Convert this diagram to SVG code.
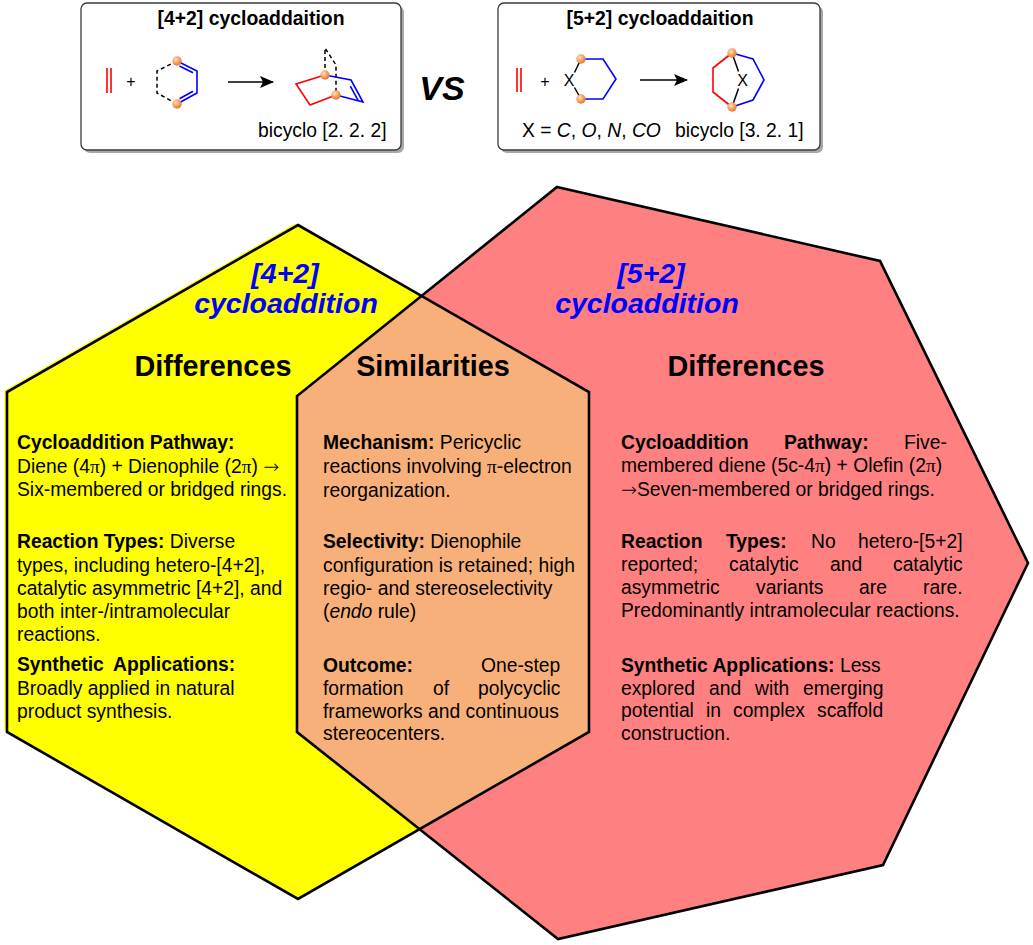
<svg xmlns="http://www.w3.org/2000/svg" width="1033" height="945" viewBox="0 0 1033 945">
<style>
text{font-family:"Liberation Sans",Arial,sans-serif;fill:#000}
.t{font-size:19.3px}
.b{font-weight:bold}
.i{font-style:italic}
.p{font-family:"Liberation Serif","Times New Roman",serif}
.ar{font-family:"DejaVu Sans",sans-serif;font-size:19px;font-weight:200}
.h{font-size:28.8px;font-weight:bold;text-anchor:middle}
.bl{font-size:28.5px;font-weight:bold;font-style:italic;fill:#0000FF;text-anchor:middle}
.ttl{font-size:19.4px;font-weight:bold;text-anchor:middle}
.sm{font-size:16px;text-anchor:middle}
.pl{font-size:16px;text-anchor:middle}
.box{fill:#fff;stroke:#3a3a3a;stroke-width:1.3}
.shadow{fill:#a8a8a8}
.red{fill:none;stroke:#FF0000;stroke-width:1.6;stroke-linejoin:miter}
.blue{fill:none;stroke:#0000FF;stroke-width:1.6;stroke-linejoin:miter}
.blk{fill:none;stroke:#000;stroke-width:1.5}
.dash{fill:none;stroke:#000;stroke-width:1.5;stroke-dasharray:4 3}
.outline{fill:none;stroke:#000;stroke-width:2.6;stroke-linejoin:miter}
.arrow{stroke:#000;stroke-width:1.5;fill:none;marker-end:url(#ah)}
</style>
<defs>
<radialGradient id="dot" cx="38%" cy="35%" r="65%">
<stop offset="0" stop-color="#FFE6CC"/>
<stop offset="0.55" stop-color="#F8A060"/>
<stop offset="1" stop-color="#E57A35"/>
</radialGradient>
<marker id="ah" viewBox="0 0 14 12" refX="13" refY="6" markerWidth="14" markerHeight="12" markerUnits="userSpaceOnUse" orient="auto">
<path d="M0,0 L14,6 L0,12 L3,6 Z" fill="#000"/>
</marker>
<clipPath id="yclip"><polygon points="298,225 589,392 589,732 298,899 7,732 7,392"/></clipPath>
</defs>
<rect width="1033" height="945" fill="#fff"/>

<!-- Venn shapes -->
<g id="hex-42">
<polygon points="298,225 589,392 589,732 298,899 7,732 7,392" transform="translate(-2.5,-1.5)" fill="#FFFF00"/>
<polygon points="298,225 589,392 589,732 298,899 7,732 7,392" fill="#FFFF00"/>
</g>
<g id="hept-52">
<polygon points="557,187 880,261 1028,563 883,865 558,939 297,732 297,396" fill="#FF8080"/>
</g>
<g id="overlap">
<polygon points="557,187 880,261 1028,563 883,865 558,939 297,732 297,396" fill="#F8B07A" clip-path="url(#yclip)"/>
</g>
<g id="outlines">
<polygon class="outline" points="298,225 589,392 589,732 298,899 7,732 7,392"/>
<polygon class="outline" points="557,187 880,261 1028,563 883,865 558,939 297,732 297,396"/>
</g>

<!-- Top box [4+2] -->
<g id="box-42">
<rect class="shadow" x="84" y="6" width="320" height="147" rx="6"/>
<rect class="box" x="81" y="3" width="320" height="147" rx="6"/>
<text class="ttl" x="251" y="25">[4+2] cycloaddaition</text>
<line class="red" x1="107" y1="68" x2="107" y2="93"/>
<line class="red" x1="111" y1="68" x2="111" y2="93"/>
<text class="pl" x="131" y="87">+</text>
<path class="dash" d="M177,61 L157,71 L157,93 L177,104"/>
<path class="blue" d="M177,61 L197,71 L197,93 L177,104"/>
<line class="blue" x1="179.5" y1="66" x2="193" y2="72.8"/>
<line class="blue" x1="193" y1="91.2" x2="179.5" y2="98.8"/>
<circle cx="177" cy="61" r="4.7" fill="url(#dot)"/>
<circle cx="177" cy="104" r="4.7" fill="url(#dot)"/>
<path class="dash" d="M325,75 L325,48 L336,65 L336,95"/>
<path class="red" d="M325,75 L296,84 L310,105 L336,95"/>
<path class="blue" d="M325,75 L351,80 L363,102 L336,95"/>
<line class="blue" x1="350.3" y1="86.1" x2="358.1" y2="100.4"/>
<circle cx="325" cy="75" r="4.7" fill="url(#dot)"/>
<circle cx="336" cy="95" r="4.7" fill="url(#dot)"/>
<text class="t" x="258" y="137">bicyclo [2. 2. 2]</text>
</g>

<!-- VS -->
<g id="vs">
<text x="442" y="100" style="font-size:34px;font-weight:bold;font-style:italic;text-anchor:middle">VS</text>
</g>

<!-- Top box [5+2] -->
<g id="box-52">
<rect class="shadow" x="501" y="6" width="322" height="147" rx="6"/>
<rect class="box" x="498" y="3" width="322" height="147" rx="6"/>
<text class="ttl" x="660" y="25">[5+2] cycloaddaition</text>
<line class="red" x1="517" y1="68" x2="517" y2="92"/>
<line class="red" x1="521" y1="68" x2="521" y2="92"/>
<text class="pl" x="545" y="87">+</text>
<text class="sm" x="569" y="86">X</text>
<line class="blk" x1="581" y1="59" x2="574.5" y2="72.5"/>
<line class="blk" x1="574.5" y1="87.5" x2="581" y2="99"/>
<path class="blue" d="M581,59 L603,59 L616,79 L603,99 L581,99"/>
<circle cx="581" cy="59" r="4.7" fill="url(#dot)"/>
<circle cx="581" cy="99" r="4.7" fill="url(#dot)"/>
<path class="red" d="M732,53 L713,68 L713,92 L732,107"/>
<path class="blue" d="M732,53 L753,59 L764,80 L753,100 L732,107"/>
<line class="blk" x1="732" y1="53" x2="738.5" y2="71.5"/>
<line class="blk" x1="738.5" y1="88.5" x2="732" y2="107"/>
<text class="sm" x="742.5" y="86">X</text>
<circle cx="732" cy="53" r="4.7" fill="url(#dot)"/>
<circle cx="732" cy="107" r="4.7" fill="url(#dot)"/>
<text class="t" x="522" y="137">X = <tspan class="i">C</tspan>, <tspan class="i">O</tspan>, <tspan class="i">N</tspan>, <tspan class="i">CO</tspan></text>
<text class="t" x="675" y="137">bicyclo [3. 2. 1]</text>
</g>

<g id="connectors">
<line class="arrow" x1="228" y1="82" x2="273" y2="82"/>
<line class="arrow" x1="640" y1="80" x2="687" y2="80"/>
</g>

<!-- Left: [4+2] differences -->
<g id="left-text">
<text class="bl" x="285" y="283">[4+2]</text>
<text class="bl" x="286" y="313">cycloaddition</text>
<text class="h" x="213" y="376">Differences</text>
<text class="t b" x="17" y="449">Cycloaddition Pathway:</text>
<text class="t" x="17" y="472.5">Diene (4<tspan class="p">π</tspan>) + Dienophile (2<tspan class="p">π</tspan>) <tspan class="ar">→</tspan></text>
<text class="t" x="17" y="496">Six-membered or bridged rings.</text>
<text class="t" x="17" y="548"><tspan class="b">Reaction Types:</tspan> Diverse</text>
<text class="t" x="17" y="571.5">types, including hetero-[4+2],</text>
<text class="t" x="17" y="594.5">catalytic asymmetric [4+2], and</text>
<text class="t" x="17" y="617.5">both inter-/intramolecular</text>
<text class="t" x="17" y="640.5">reactions.</text>
<text class="t b" x="17" y="671">Synthetic<tspan x="113">Applications:</tspan></text>
<text class="t" x="17" y="694.5">Broadly applied in natural</text>
<text class="t" x="17" y="718">product synthesis.</text>
</g>

<!-- Middle: similarities -->
<g id="mid-text">
<text class="h" x="433" y="376">Similarities</text>
<text class="t" x="323" y="449"><tspan class="b">Mechanism:</tspan> Pericyclic</text>
<text class="t" x="323" y="473">reactions involving <tspan class="p">π</tspan>-electron</text>
<text class="t" x="323" y="497">reorganization.</text>
<text class="t" x="323" y="548"><tspan class="b">Selectivity:</tspan> Dienophile</text>
<text class="t" x="323" y="572">configuration is retained; high</text>
<text class="t" x="323" y="595">regio- and stereoselectivity</text>
<text class="t" x="323" y="618">(<tspan class="i">endo</tspan> rule)</text>
<text class="t" x="323" y="672"><tspan class="b">Outcome:</tspan><tspan x="481">One-step</tspan></text>
<text class="t" x="323" y="695">formation<tspan x="433">of</tspan><tspan x="478">polycyclic</tspan></text>
<text class="t" x="323" y="718">frameworks and continuous</text>
<text class="t" x="323" y="740">stereocenters.</text>
</g>

<!-- Right: [5+2] differences -->
<g id="right-text">
<text class="bl" x="651" y="283">[5+2]</text>
<text class="bl" x="647" y="313">cycloaddition</text>
<text class="h" x="746" y="376">Differences</text>
<text class="t" x="621" y="449"><tspan class="b">Cycloaddition</tspan><tspan class="b" x="784">Pathway:</tspan><tspan x="904">Five-</tspan></text>
<text class="t" x="621" y="472">membered diene (5c-4<tspan class="p">π</tspan>) + Olefin (2<tspan class="p">π</tspan>)</text>
<text class="t" x="621" y="496"><tspan class="ar">→</tspan>Seven-membered or bridged rings.</text>
<text class="t" x="621" y="548"><tspan class="b">Reaction</tspan><tspan class="b" x="726">Types:</tspan><tspan x="811">No</tspan><tspan x="858">hetero-[5+2]</tspan></text>
<text class="t" x="621" y="571">reported;<tspan x="729">catalytic</tspan><tspan x="830">and</tspan><tspan x="893">catalytic</tspan></text>
<text class="t" x="621" y="594">asymmetric<tspan x="756">variants</tspan><tspan x="859">are</tspan><tspan x="923">rare.</tspan></text>
<text class="t" x="621" y="617">Predominantly intramolecular reactions.</text>
<text class="t" x="621" y="672"><tspan class="b">Synthetic Applications:</tspan> Less</text>
<text class="t" x="621" y="695">explored<tspan x="709">and</tspan><tspan x="755">with</tspan><tspan x="803">emerging</tspan></text>
<text class="t" x="621" y="717">potential<tspan x="706">in</tspan><tspan x="733">complex</tspan><tspan x="817">scaffold</tspan></text>
<text class="t" x="621" y="740">construction.</text>
</g>
</svg>
